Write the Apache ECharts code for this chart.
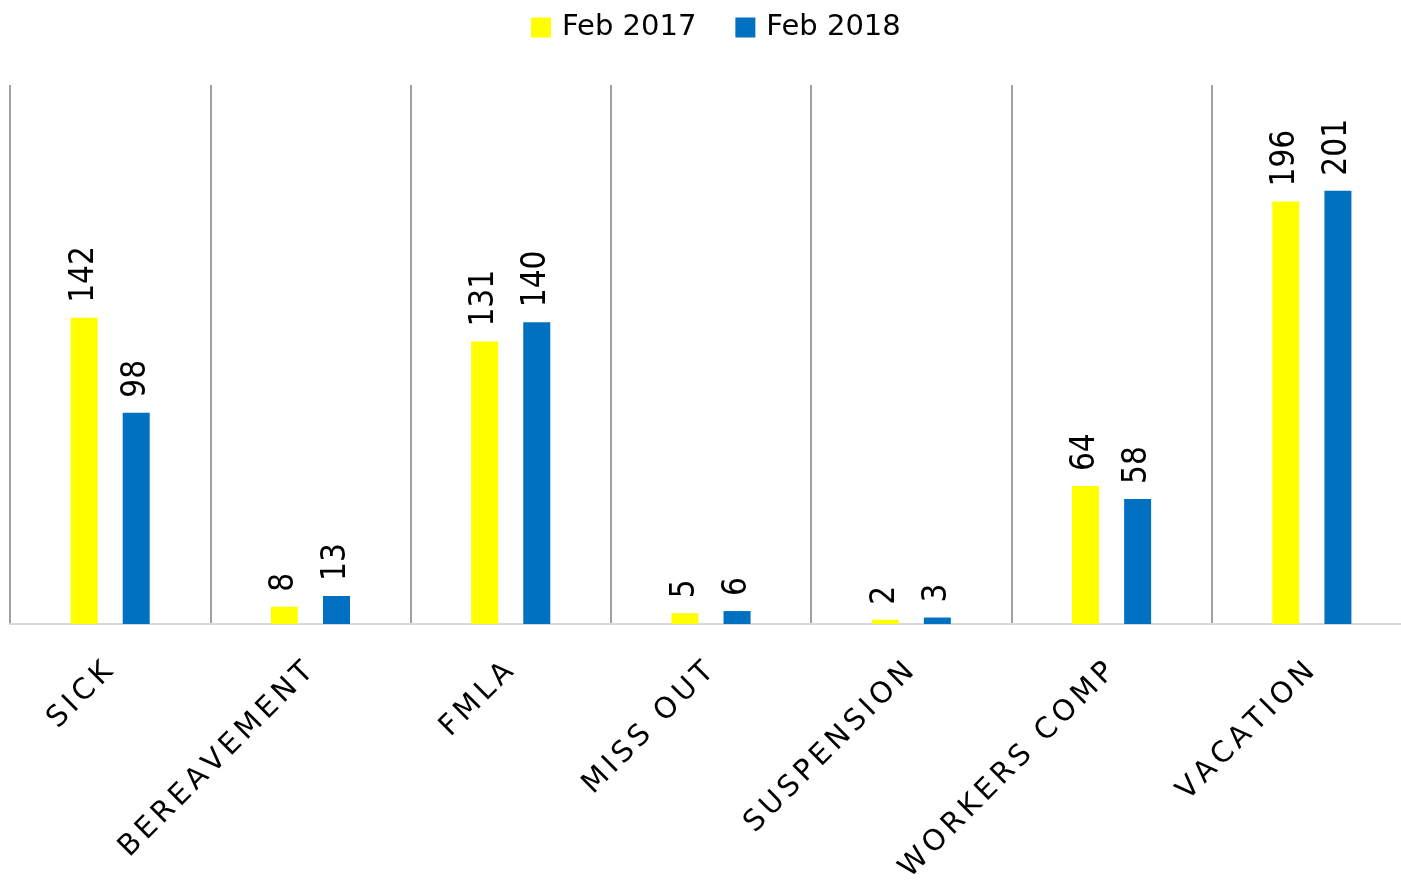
<!DOCTYPE html>
<html>
<head>
<meta charset="utf-8">
<script src="https://cdn.jsdelivr.net/npm/echarts@6/dist/echarts.min.js"></script>
<style>
  html, body { margin: 0; padding: 0; background: #ffffff; }
  #main { width: 1401px; height: 880px; }
</style>
</head>
<body>
<div id="main"></div>
<script type="text/javascript">
// categories and values
var categories = ['SICK', 'BEREAVEMENT', 'FMLA', 'MISS OUT', 'SUSPENSION', 'WORKERS COMP', 'VACATION'];
var feb2017 = [142, 8, 131, 5, 2, 64, 196];
var feb2018 = [98, 13, 140, 6, 3, 58, 201];

var wideFont = '"DejaVu Sans", sans-serif';
var narrowFont = '"DejaVu Sans Condensed", "Liberation Sans Narrow", sans-serif';

var myChart = echarts.init(document.getElementById('main'));

var barLabel = {
    show: true,
    position: 'top',
    rotate: 90,
    align: 'left',
    verticalAlign: 'middle',
    distance: 15,
    color: '#000000',
    fontSize: 33,
    fontFamily: narrowFont
};

var option = {
    animation: false,
    backgroundColor: '#ffffff',
    legend: {
        left: 526,
        top: 8,
        itemWidth: 20,
        itemHeight: 20,
        itemGap: 39,
        icon: 'rect',
        textStyle: { fontSize: 29, color: '#000000', fontFamily: wideFont, padding: [0, 0, 0, 6] },
        data: ['Feb 2017', 'Feb 2018']
    },
    grid: {
        left: 10,
        right: -11,
        top: 85,
        bottom: 256,
        outerBoundsMode: 'none',
        containLabel: false
    },
    xAxis: {
        type: 'category',
        data: categories,
        axisLine: { show: true, lineStyle: { color: '#d9d9d9', width: 2 } },
        axisTick: { show: false },
        splitLine: { show: true, lineStyle: { color: '#a0a0a0', width: 2 } },
        axisLabel: {
            interval: 0,
            rotate: 45,
            margin: 42,
            color: '#000000',
            fontSize: 29,
            fontFamily: wideFont,
            // spread the letters apart like the original labels
            formatter: function (v) {
                return v.split('').map(function (c) { return '{c|' + c + '}'; }).join('');
            },
            rich: {
                c: { fontSize: 29, fontFamily: wideFont, color: '#000000', padding: [0, 2.2] }
            }
        }
    },
    yAxis: {
        type: 'value',
        min: 0,
        max: 250,
        show: false,
        splitLine: { show: false }
    },
    series: [
        {
            name: 'Feb 2017',
            type: 'bar',
            data: feb2017,
            barWidth: 27,
            barGap: '93%',
            itemStyle: { color: '#ffff00' },
            label: barLabel
        },
        {
            name: 'Feb 2018',
            type: 'bar',
            data: feb2018,
            barWidth: 27,
            barGap: '93%',
            itemStyle: { color: '#0070c0' },
            label: barLabel
        }
    ]
};

myChart.setOption(option);
</script>
</body>
</html>
